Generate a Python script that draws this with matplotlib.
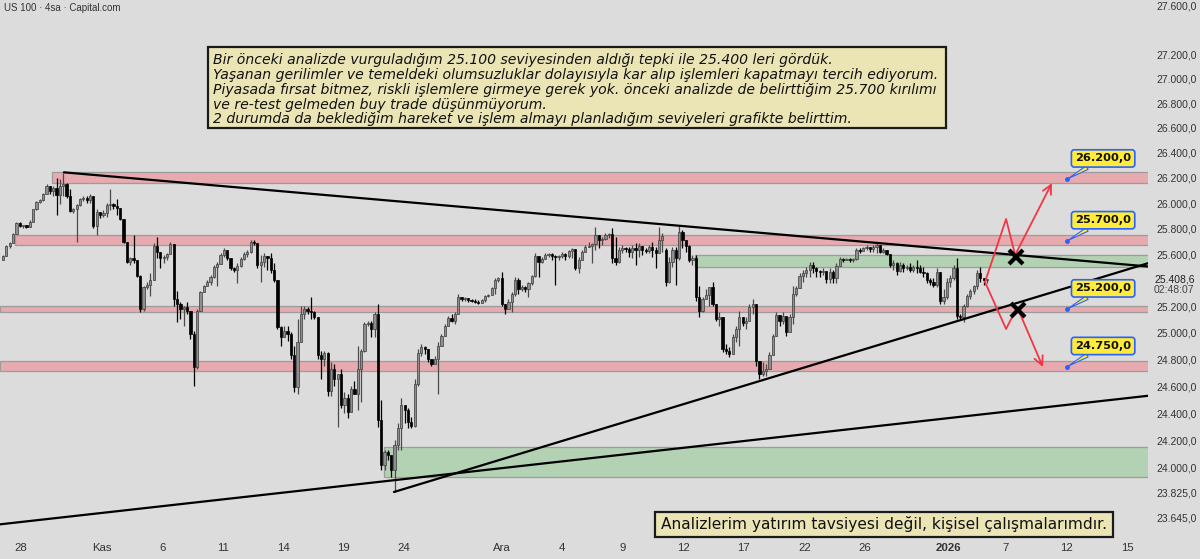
import matplotlib
matplotlib.use('Agg')
import matplotlib.pyplot as plt
import matplotlib.transforms as mtransforms
from matplotlib.patches import Rectangle
from matplotlib.ticker import NullLocator

# ---------------- data (US 100, 4h candles) ----------------
opens = [25558,25588,25666,25689,25759,25843,25820,25828,25813,25851,25952,26013,26029,26075,26137,26098,26121,26067,26137,26152,
26060,25936,25952,25990,26036,26044,26029,26060,25820,25928,25905,25921,25990,25998,25975,25967,25874,25697,25543,25573,
25558,25437,25180,25347,25369,25407,25666,25620,25573,25581,25604,25681,25256,25218,25180,25195,25165,24992,24743,25165,
25309,25354,25392,25430,25505,25528,25596,25635,25573,25498,25483,25513,25566,25604,25620,25697,25689,25520,25543,25588,
25573,25483,25407,25045,24969,25015,24992,24833,24592,24932,25143,25180,25165,25158,25120,24833,24803,24848,24561,24728,
24652,24690,24463,24516,24411,24576,24539,24728,24864,25067,25075,25030,25143,24350,24020,24114,24092,23984,24166,24290,
24463,24426,24335,24305,24614,24848,24894,24879,24803,24765,24803,24901,24977,25052,25112,25090,25143,25271,25256,25264,
25248,25241,25233,25226,25248,25279,25286,25339,25407,25422,25218,25180,25233,25294,25407,25331,25347,25331,25377,25437,
25588,25543,25566,25596,25604,25588,25581,25588,25604,25588,25627,25643,25498,25558,25620,25658,25666,25681,25751,25712,
25720,25751,25759,25573,25543,25635,25650,25643,25620,25650,25635,25666,25635,25627,25658,25635,25612,25712,25635,25392,
25543,25635,25573,25774,25712,25666,25558,25573,25271,25165,25256,25286,25347,25218,25105,25120,24879,24864,24841,24969,
25030,25120,25075,25090,25195,25218,24788,24690,24712,24728,24833,24977,25135,25090,25128,25007,25120,25294,25339,25437,
25460,25483,25520,25498,25475,25467,25475,25415,25467,25422,25513,25566,25558,25566,25558,25566,25635,25627,25650,25658,
25643,25658,25674,25620,25635,25604,25520,25535,25475,25520,25498,25505,25483,25505,25498,25467,25460,25400,25392,25362,
25467,25241,25271,25392,25422,25498,25128,25120,25203,25279,25316,25354,25460,25422,25407]
highs = [25596,25674,25697,25766,25851,25851,25828,25828,25867,25959,26021,26036,26083,26152,26137,26137,26199,26191,26240,26160,
26114,25967,25998,26044,26060,26060,26075,26060,25959,25928,25944,26006,26114,26006,26036,25967,25874,25697,25581,25751,
25558,25445,25354,25392,25460,25689,25735,25620,25596,25612,25697,25681,25316,25233,25203,25233,25165,25015,25180,25316,
25369,25407,25445,25520,25543,25612,25650,25635,25573,25505,25535,25581,25620,25635,25712,25712,25689,25596,25612,25588,
25612,25535,25407,25052,25052,25052,25007,24901,25105,25203,25203,25195,25271,25165,25120,24864,24864,24856,24780,24765,
24690,24728,24554,24539,24599,24637,24901,24879,25082,25090,25090,25158,25218,24501,24129,24129,24095,24203,24327,24516,
24463,24441,24373,24652,24879,24916,24901,24879,24803,24826,24932,24992,25067,25128,25143,25158,25294,25271,25271,25264,
25256,25256,25248,25256,25286,25294,25347,25422,25430,25467,25218,25256,25309,25430,25422,25369,25354,25392,25445,25612,
25588,25581,25612,25612,25612,25596,25596,25620,25612,25635,25650,25643,25581,25635,25674,25697,25689,25813,25751,25735,
25766,25766,25805,25735,25658,25674,25658,25658,25674,25689,25689,25666,25650,25674,25697,25658,25813,25766,25650,25581,
25658,25658,25820,25789,25712,25674,25596,25596,25354,25271,25331,25347,25392,25218,25158,25120,24916,24894,24992,25052,
25165,25120,25120,25218,25256,25218,24788,24780,24765,24856,24992,25158,25135,25158,25128,25143,25354,25354,25460,25483,
25505,25543,25543,25505,25483,25498,25475,25498,25483,25535,25581,25573,25573,25573,25573,25650,25650,25658,25674,25658,
25674,25697,25674,25650,25635,25604,25558,25543,25543,25535,25520,25535,25520,25558,25520,25505,25467,25422,25422,25498,
25467,25331,25422,25445,25520,25573,25143,25218,25294,25331,25369,25483,25505,25422,25412]
lows = [25558,25588,25650,25689,25759,25813,25805,25805,25813,25851,25944,26006,26021,26075,26075,26060,25905,25998,26060,26044,
25928,25921,25697,25982,26021,26006,26006,25805,25751,25882,25890,25890,25944,25959,25905,25867,25689,25535,25520,25535,
25430,25158,25165,25331,25279,25407,25573,25498,25535,25558,25604,25203,25082,25105,25052,25143,24954,24599,24728,25165,
25309,25354,25369,25422,25354,25528,25581,25558,25483,25467,25384,25505,25558,25581,25612,25674,25498,25392,25505,25483,
25460,25392,25030,24901,24969,24939,24803,24554,24539,24932,25105,25143,25105,25105,24803,24652,24750,24524,24524,24599,
24297,24441,24403,24365,24411,24539,24426,24486,24856,25052,24969,24969,24297,23984,23984,24056,23933,23825,24129,24129,
24327,24290,24290,24297,24599,24826,24841,24780,24750,24765,24539,24901,24977,25052,25082,25067,25143,25241,25241,25233,
25233,25226,25218,25226,25233,25271,25286,25294,25392,25203,25143,25180,25158,25279,25294,25316,25309,25271,25369,25430,
25430,25535,25566,25581,25558,25369,25558,25573,25558,25573,25573,25483,25460,25558,25620,25658,25535,25635,25650,25674,
25712,25728,25535,25520,25535,25612,25620,25581,25573,25520,25581,25596,25612,25612,25581,25498,25612,25620,25354,25377,
25505,25369,25558,25650,25620,25543,25520,25241,25120,25158,25256,25203,25203,25090,25052,24856,24841,24818,24841,24932,
24901,25052,25030,25090,25143,24750,24652,24675,24675,24728,24833,24977,25052,25067,24977,25007,25067,25279,25339,25392,
25430,25430,25460,25430,25430,25445,25384,25384,25384,25384,25513,25543,25558,25543,25543,25558,25612,25627,25635,25620,
25620,25612,25612,25612,25596,25505,25483,25445,25467,25467,25483,25467,25467,25460,25460,25430,25384,25369,25347,25347,
25218,25218,25256,25347,25407,25105,25105,25082,25195,25256,25294,25331,25392,25369,25384]
closes = [25588,25666,25689,25759,25843,25820,25828,25813,25851,25952,26013,26029,26075,26137,26098,26121,26067,26137,26152,26060,
25936,25952,25990,26036,26044,26029,26060,25820,25928,25905,25921,25990,25998,25975,25967,25874,25697,25543,25573,25558,
25437,25180,25347,25369,25407,25666,25620,25573,25581,25604,25681,25256,25218,25180,25195,25165,24992,24743,25165,25309,
25354,25392,25430,25505,25528,25596,25635,25573,25498,25483,25513,25566,25604,25620,25697,25689,25520,25543,25588,25573,
25483,25407,25045,24969,25015,24992,24833,24592,24932,25143,25180,25165,25158,25120,24833,24803,24848,24561,24728,24652,
24690,24463,24516,24411,24576,24539,24728,24864,25067,25075,25030,25143,24350,24020,24114,24092,23984,24166,24290,24463,
24426,24335,24305,24614,24848,24894,24879,24803,24765,24803,24901,24977,25052,25112,25090,25143,25271,25256,25264,25248,
25241,25233,25226,25248,25279,25286,25339,25407,25422,25218,25180,25233,25294,25407,25331,25347,25331,25377,25437,25588,
25543,25566,25596,25604,25588,25581,25588,25604,25588,25627,25643,25498,25558,25620,25658,25666,25681,25751,25712,25720,
25751,25759,25573,25543,25635,25650,25643,25620,25650,25635,25666,25635,25627,25658,25635,25612,25712,25743,25392,25543,
25635,25573,25774,25712,25666,25558,25573,25271,25165,25256,25286,25347,25218,25105,25120,24879,24864,24841,24969,25030,
25120,25075,25090,25195,25218,24788,24690,24712,24728,24833,24977,25135,25090,25128,25007,25120,25294,25339,25437,25460,
25483,25520,25498,25475,25467,25475,25415,25467,25422,25513,25566,25558,25566,25558,25566,25635,25627,25650,25658,25643,
25658,25674,25620,25635,25604,25520,25535,25475,25520,25498,25505,25483,25505,25498,25467,25460,25400,25392,25362,25467,
25241,25271,25392,25422,25498,25128,25120,25203,25279,25316,25354,25460,25422,25407,25409]

day_labels = ['28', 'Kas', '6', '11', '14', '19', '24', 'Ara', '4', '9', '12', '17', '22', '26', '2026', '7', '12', '15']
price_ticks = [27600, 27200, 27000, 26800, 26600, 26400, 26200, 26000, 25800, 25600,
               25200, 25000, 24800, 24600, 24400, 24200, 24000, 23825, 23645]
last_price = 25408.6
countdown = '02:48:07'

# support / resistance zones (low, high prices)
red_zone_low = [26160, 25674, 25162, 24713]
red_zone_high = [26248, 25752, 25208, 24788]
green_zone_low = [25504, 23933]
green_zone_high = [25596, 24151]
callout_levels = [26200, 25700, 25200, 24750]
callout_prices = [26190, 25705, 25180, 24745]

# trend lines (bar index, price)
down_line = ([18.2, 342.1], [26245, 25508])
up_line = ([116.8, 342.1], [23825, 25533])
long_line = ([-0.9, 342.1], [23593, 24529])
# scenario paths
path_up = ([293.4, 299.7, 302.4, 313.4], [25388, 25877, 25596, 26160])
path_down = ([293.4, 299.7, 303.0, 310.7], [25388, 25030, 25197, 24743])
x_marks = ([302.7, 303.3], [25581, 25174])

note_lines = [
    "Bir önceki analizde vurguladığım 25.100 seviyesinden aldığı tepki ile 25.400 leri gördük.",
    "Yaşanan gerilimler ve temeldeki olumsuzluklar dolayısıyla kar alıp işlemleri kapatmayı tercih ediyorum.",
    "Piyasada fırsat bitmez, riskli işlemlere girmeye gerek yok. önceki analizde de belirttiğim 25.700 kırılımı",
    "ve re-test gelmeden buy trade düşünmüyorum.",
    "2 durumda da beklediğim hareket ve işlem almayı planladığım seviyeleri grafikte belirttim.",
]
disclaimer = "Analizlerim yatırım tavsiyesi değil, kişisel çalışmalarımdır."
header = "US 100 · 4sa · Capital.com"

# ---------------- layout / style ----------------
W, H = 1200, 559
BG = '#dcdcdc'
AX_RIGHT = 1148
AX_BOTTOM = 535
tick_pos = [5.4, 29.4, 47.7, 65.8, 83.7, 101.8, 119.7, 148.9, 167.0, 185.2, 203.3,
            221.2, 239.5, 257.5, 282.4, 299.6, 317.6, 335.9]
XMIN, XMAX = -0.9, 342.1
YMIN, YMAX = 23517, 27650
AXFONT = 'Liberation Sans'

def fmt(v, dec=1):
    s = f"{v:,.{dec}f}"
    return s.replace(',', 'X').replace('.', ',').replace('X', '.')

fig = plt.figure(figsize=(W / 100, H / 100), dpi=100)
fig.patch.set_facecolor(BG)
ax = fig.add_axes([0, 1 - AX_BOTTOM / H, AX_RIGHT / W, AX_BOTTOM / H])
ax.set_facecolor(BG)
ax.set_yscale('log')
ax.set_xlim(XMIN, XMAX)
ax.set_ylim(YMIN, YMAX)
for s in ax.spines.values():
    s.set_visible(False)

# zones
zone_red_start = [14.6, 3.6, XMIN, XMIN]
for lo, hi, x0 in zip(red_zone_low, red_zone_high, zone_red_start):
    ax.add_patch(Rectangle((x0, lo), XMAX - x0 + 5, hi - lo, facecolor='#e6aaaf',
                           edgecolor='#9c9c9c', linewidth=0.9, zorder=1))
zone_green_start = [206.7, 113.8]
for lo, hi, x0 in zip(green_zone_low, green_zone_high, zone_green_start):
    ax.add_patch(Rectangle((x0, lo), XMAX - x0 + 5, hi - lo, facecolor='#b3d2b3',
                           edgecolor='#9c9c9c', linewidth=0.9, zorder=1))

# candles
xs = list(range(len(closes)))
for i in xs:
    o, h, l, c = opens[i], highs[i], lows[i], closes[i]
    up = c >= o
    hi_ = max(h, o, c)
    lo_ = min(l, o, c)
    wick_col = '#4a4a4a' if up else '#000000'
    ax.vlines(i, lo_, hi_, colors=wick_col, linewidth=0.9, zorder=3)
    body_lo, body_hi = min(o, c), max(o, c)
    if up:
        ax.bar(i, body_hi - body_lo, bottom=body_lo, width=0.66, color='#8e8e8e',
               edgecolor='#3c3c3c', linewidth=0.5, zorder=4)
    else:
        ax.bar(i, body_hi - body_lo, bottom=body_lo, width=0.66, color='#000000',
               edgecolor='#000000', linewidth=0.5, zorder=4)

# trend lines
for xx, yy in (down_line, up_line, long_line):
    ax.plot(xx, yy, color='black', linewidth=1.6, zorder=5, solid_capstyle='round')

# scenario arrows
RED = '#f23645'
for xx, yy in (path_up, path_down):
    ax.plot(xx[:-1], yy[:-1], color=RED, linewidth=1.3, zorder=6)
    ax.annotate('', xy=(xx[-1], yy[-1]), xytext=(xx[-2], yy[-2]),
                arrowprops=dict(arrowstyle='->', color=RED, lw=1.3, mutation_scale=16,
                                shrinkA=0, shrinkB=0), zorder=6)
ax.plot(x_marks[0], x_marks[1], linestyle='none', marker='x', markersize=10,
        markeredgewidth=3.0, color='black', zorder=7)

# callouts
for lvl, p in zip(callout_levels, callout_prices):
    xp = 317.9
    ax.plot([xp], [p], marker='o', markersize=2.5, color='#2962ff', zorder=8)
    ax.annotate(fmt(lvl), xy=(xp, p), xytext=(26, 15), textcoords='offset points',
                ha='center', va='center', fontsize=8.2, fontweight='bold', color='#111111',
                family='DejaVu Sans',
                bbox=dict(boxstyle='round,pad=0.32,rounding_size=0.25', fc='#ffeb3b',
                          ec='#2962ff', lw=1.2),
                arrowprops=dict(arrowstyle='wedge,tail_width=0.35,shrink_factor=0.5',
                                fc='#ffeb3b', ec='#2962ff', lw=0.8, shrinkA=0, shrinkB=1),
                zorder=9)

# axes ticks
ax.yaxis.tick_right()
ax.set_yticks(price_ticks)
ax.set_yticklabels([fmt(v) for v in price_ticks], family=AXFONT)
ax.yaxis.set_minor_locator(NullLocator())
ax.tick_params(axis='y', length=0, pad=6, labelsize=7.5, labelcolor='#333333')
ax.set_xticks(tick_pos)
ax.set_xticklabels(day_labels, family=AXFONT)
ax.tick_params(axis='x', length=0, pad=6, labelsize=8.2, labelcolor='#333333')
for lab in ax.get_xticklabels():
    if lab.get_text() == '2026':
        lab.set_fontweight('bold')

# current price
blend = mtransforms.blended_transform_factory(ax.transAxes, ax.transData)
ax.text(1.0 + 6 / AX_RIGHT, last_price, fmt(last_price), transform=blend, fontsize=7.5,
        family=AXFONT, color='#222222', va='center', ha='left', clip_on=False)
ax.annotate(countdown, xy=(1.0 + 6 / AX_RIGHT, last_price), xycoords=blend,
            xytext=(0, -8), textcoords='offset points', fontsize=7.5, family=AXFONT,
            color='#444444', va='center', ha='left', annotation_clip=False)

# figure-pixel transform (origin top-left)
pix = mtransforms.Affine2D().scale(1 / W, -1 / H).translate(0, 1) + fig.transFigure

fig.text(4 / W, 1 - 8 / H, header, fontsize=7.0, family=AXFONT, color='#333333',
         va='center', ha='left')

fig.add_artist(Rectangle((208, 47), 738, 81, transform=pix, facecolor='#ebe5b6',
                         edgecolor='#1a1a1a', linewidth=1.6, zorder=10))
note_y = [60, 75, 90, 104.5, 119]
for line, yy in zip(note_lines, note_y):
    fig.text(213, yy, line, transform=pix, fontsize=10.1, style='italic', family='DejaVu Sans',
             color='#111111', va='center', ha='left', zorder=11)

fig.add_artist(Rectangle((655, 512), 458, 25, transform=pix, facecolor='#ebe5b6',
                         edgecolor='#1a1a1a', linewidth=1.6, zorder=10))
fig.text(661, 524.5, disclaimer, transform=pix, fontsize=11.1, family='DejaVu Sans',
         color='#111111', va='center', ha='left', zorder=11)

fig.savefig('out.png', dpi=100, facecolor=BG)
